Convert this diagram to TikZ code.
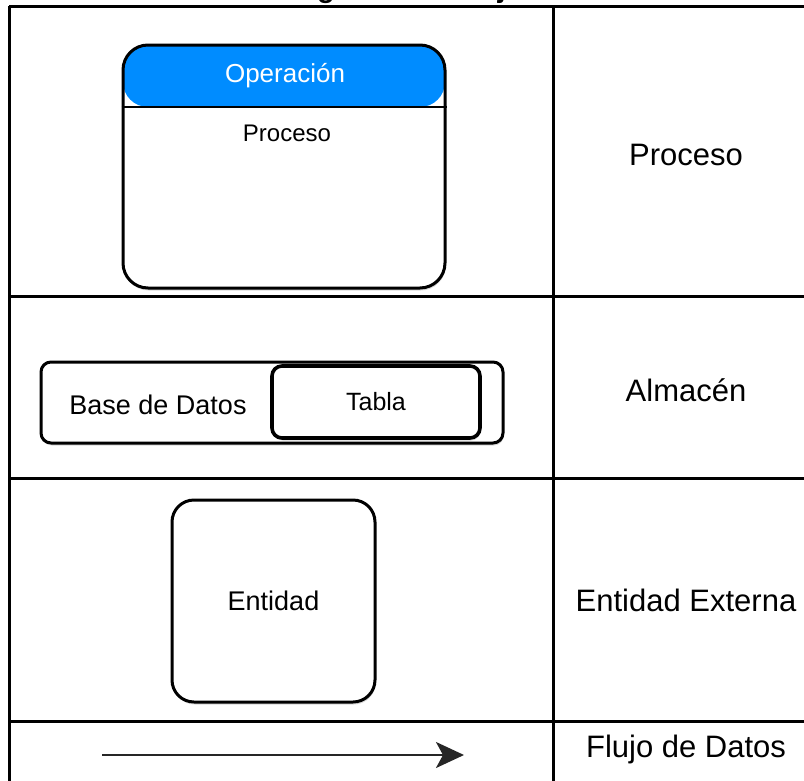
\documentclass[tikz,border=0pt]{standalone}
\usepackage{fontspec}
\setmainfont{Liberation Sans}
\usepackage{xcolor}
\usetikzlibrary{arrows.meta, positioning, shadows}
\definecolor{opblue}{RGB}{0,140,255}

\begin{document}
\begin{tikzpicture}[
    x=1pt, y=-1pt,
    grid/.style={line width=3pt, draw=black},
    shapebox/.style={draw=black, line width=3pt, fill=white, rounded corners=#1,
                     inner sep=0pt,
                     drop shadow={shadow xshift=0.8pt, shadow yshift=-2.5pt, opacity=.3}},
    boxtext/.style={inner sep=0pt, font=\fontsize{26}{30}\selectfont},
    legend/.style={inner sep=0pt, font=\fontsize{31}{36}\selectfont},
    flow/.style={-{Stealth[length=28pt, width=26pt, inset=7pt]}, line width=2.2pt, draw=black!85},
]
\useasboundingbox (0,0) rectangle (804,780);
\clip (0,0) rectangle (804,780);

% Title (cut off at the top)
\node[anchor=base, inner sep=0pt, font=\fontsize{29}{34}\selectfont\bfseries] (title) at (463,-3) {Diagrama de Flujo de Datos};

% Table
\draw[grid] (9,6) -- (830,6);
\draw[grid] (9,296) -- (830,296);
\draw[grid] (9,478) -- (830,478);
\draw[grid] (9,721) -- (830,721);
\draw[grid] (9,6) -- (9,800);
\draw[grid] (553,6) -- (553,800);

% Proceso
\coordinate (opsep) at (284,107);
\node[shapebox=25pt, minimum width=322pt, minimum height=243pt,
      path picture={\fill[opblue] (path picture bounding box.north west)
                    rectangle ([yshift=-62pt]path picture bounding box.north east);}]
      (proc) at (284,166.5) {};
\draw[draw=black, line width=2.8pt] (proc.west |- opsep) -- (proc.east |- opsep);
\node[boxtext, text=white] (op) at (285,76) {Operación};
\node[boxtext, font=\fontsize{24}{28}\selectfont] (proclbl) at (287,133) {Proceso};

% Almacen
\node[shapebox=10pt, minimum width=462pt, minimum height=81pt] (store) at (272,402.5) {};
\node[boxtext, font=\fontsize{27}{31}\selectfont] (db) at (158,405) {Base de Datos};
\node[shapebox=10pt, line width=3.6pt, minimum width=208pt, minimum height=72pt] (table) at (376,402) {};
\node[boxtext, font=\fontsize{25}{29}\selectfont] at (table) {Tabla};

% Entidad
\node[shapebox=22pt, minimum width=203pt, minimum height=202pt] (ent) at (273.5,601) {};
\node[boxtext, font=\fontsize{27}{31}\selectfont] at (ent) {Entidad};

% Flujo
\coordinate (flowstart) at (102,755);
\coordinate (flowend) at (464,755);
\draw[flow] (flowstart) -- (flowend);

% Right column
\node[legend] (lproc) at (686,155) {Proceso};
\node[legend] (lstore) at (686,390) {Almacén};
\node[legend] (lent) at (686,600) {Entidad Externa};
\node[legend] (lflow) at (686,749) {Flujo de Datos};

\end{tikzpicture}
\end{document}
